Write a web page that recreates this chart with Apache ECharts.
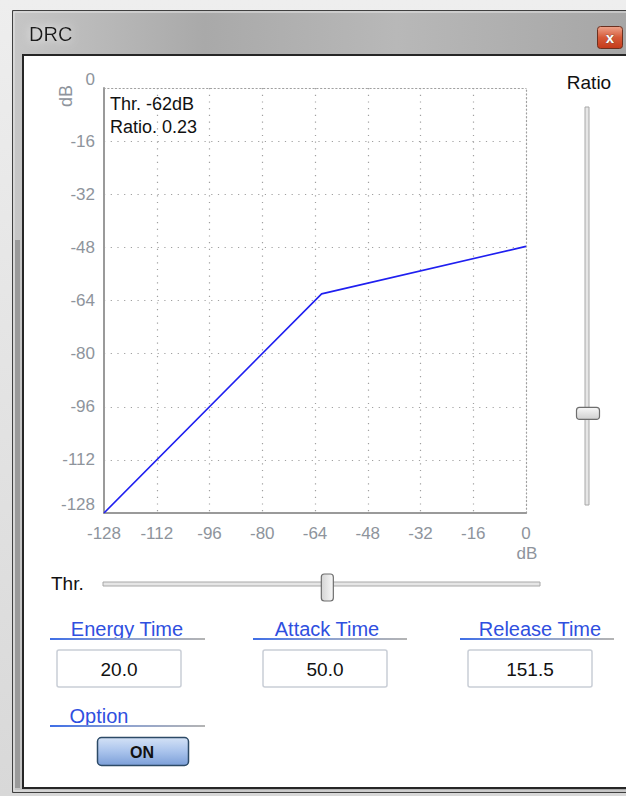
<!DOCTYPE html>
<html>
<head>
<meta charset="utf-8">
<script src="https://cdn.jsdelivr.net/npm/echarts@6/dist/echarts.min.js"></script>
<style>
html,body{margin:0;padding:0;background:#d8d8d8;}
#c{width:626px;height:796px;}
</style>
</head>
<body>
<div id="c"></div>
<script>
// ---- data ----
var curveInput  = [-128, -62, 0];
var curveOutput = [-128, -62, -47.7];
var axisTicks   = [-128, -112, -96, -80, -64, -48, -32, -16, 0];
var thresholdDb = -62;
var ratioValue  = 0.23;
var energyTime  = '20.0';
var attackTime  = '50.0';
var releaseTime = '151.5';
var optionState = 'ON';

var FONT = '"Liberation Sans",Arial,sans-serif';
var GRID = {left:104, top:88, width:422, height:425};

var chart = echarts.init(document.getElementById('c'), null, {renderer:'svg'});

var curve = curveInput.map(function(x, i){ return [x, curveOutput[i]]; });

// slider geometry
var ratioTrack = {x:585, y0:107, y1:505};
var thrTrack = {y:584, x0:103, x1:540};
var ratioThumbY = ratioTrack.y0 + (1 - ratioValue) * (ratioTrack.y1 - ratioTrack.y0);
var thrThumbX = thrTrack.x0 + (thresholdDb - axisTicks[0]) / (axisTicks[axisTicks.length-1] - axisTicks[0]) * (thrTrack.x1 - thrTrack.x0);

function blueLabel(text, cx, x0, x1, ty, ly){
  return [
    {type:'text', z:10, style:{text:text, x:cx, y:ty, align:'center', verticalAlign:'middle',
      font:'20px '+FONT, fill:'#2f4fe0'}},
    {type:'rect', z:10, shape:{x:x0, y:ly, width:x1-x0, height:2},
      style:{fill:new echarts.graphic.LinearGradient(0,0,1,0,[{offset:0,color:'#3f6ee6'},{offset:0.5,color:'#8fa3d0'},{offset:1,color:'#b4b4b4'}])}}
  ];
}
function textBox(text, x, y){
  return [
    {type:'rect', z:10, shape:{x:x, y:y, width:124, height:37, r:2},
      style:{fill:'#ffffff', stroke:'#c9ced6', lineWidth:1.5}},
    {type:'text', z:11, style:{text:text, x:x+62, y:y+19, align:'center', verticalAlign:'middle',
      font:'19px '+FONT, fill:'#111'}}
  ];
}

var graphics = [
  {type:'rect', z:0, silent:true, shape:{x:0,y:0,width:626,height:796},
    style:{fill:new echarts.graphic.LinearGradient(0,0,0,1,[{offset:0,color:'#eeeeee'},{offset:1,color:'#d8d8d8'}])}},
  {type:'rect', z:1, shape:{x:12.5,y:10.5,width:640,height:782},
    style:{fill:new echarts.graphic.LinearGradient(0,0,1,0,[{offset:0,color:'#c6c6c6'},{offset:0.3,color:'#a9a9a9'},{offset:0.6,color:'#b8b8b8'},{offset:1,color:'#a4a4a4'}]),
      stroke:'#404040', lineWidth:1}},
  {type:'rect', z:1, shape:{x:14,y:12,width:640,height:779},
    style:{fill:'none', stroke:'#e6e6e6', lineWidth:1}},
  {type:'rect', z:2, shape:{x:15,y:240,width:5,height:548},
    style:{fill:'#9a9a9a'}},
  {type:'text', z:3, style:{text:'DRC', x:29, y:34, verticalAlign:'middle', font:'20px '+FONT, fill:'#1a1a1a',
    textShadowColor:'rgba(255,255,255,0.9)', textShadowBlur:8}},
  {type:'rect', z:3, shape:{x:597.5,y:26.5,width:25,height:22,r:3},
    style:{fill:new echarts.graphic.LinearGradient(0,0,0,1,[{offset:0,color:'#eea48c'},{offset:0.5,color:'#d65a38'},{offset:1,color:'#c43a1a'}]),
      stroke:'#6a3020', lineWidth:1}},
  {type:'text', z:4, style:{text:'x', x:610, y:37, align:'center', verticalAlign:'middle', font:'bold 15px '+FONT, fill:'#ffffff', stroke:'#6a4a40', lineWidth:0.6}},
  {type:'rect', z:4, shape:{x:23,y:55,width:620,height:733},
    style:{fill:'#ffffff', stroke:'#262626', lineWidth:2}},

  {type:'text', z:20, style:{text:'Thr. ' + thresholdDb + 'dB', x:110, y:104, verticalAlign:'middle', font:'18px '+FONT, fill:'#111'}},
  {type:'text', z:20, style:{text:'Ratio. ' + ratioValue.toFixed(2), x:110, y:127, verticalAlign:'middle', font:'18px '+FONT, fill:'#111'}},
  {type:'text', z:20, rotation:Math.PI/2, x:66, y:96, style:{text:'dB', x:0, y:0, align:'center', verticalAlign:'middle', font:'18px '+FONT, fill:'#8e949c'}},
  {type:'text', z:20, style:{text:'dB', x:527, y:553, align:'center', verticalAlign:'middle', font:'17px '+FONT, fill:'#8e949c'}},

  {type:'text', z:10, style:{text:'Ratio', x:589, y:82, align:'center', verticalAlign:'middle', font:'19px '+FONT, fill:'#111'}},
  {type:'rect', z:10, shape:{x:ratioTrack.x, y:ratioTrack.y0, width:4, height:ratioTrack.y1-ratioTrack.y0},
    style:{fill:'#e6e6e6', stroke:'#a8a8a8', lineWidth:1}},
  {type:'rect', z:11, shape:{x:576.5, y:ratioThumbY-6, width:23, height:12, r:3},
    style:{fill:new echarts.graphic.LinearGradient(0,0,0,1,[{offset:0,color:'#f8f8f8'},{offset:1,color:'#cfcfcf'}]), stroke:'#6e6e6e', lineWidth:1.2}},

  {type:'text', z:10, style:{text:'Thr.', x:51, y:583, verticalAlign:'middle', font:'19px '+FONT, fill:'#111'}},
  {type:'rect', z:10, shape:{x:thrTrack.x0, y:thrTrack.y-2, width:thrTrack.x1-thrTrack.x0, height:4},
    style:{fill:'#e6e6e6', stroke:'#a8a8a8', lineWidth:1}},
  {type:'rect', z:11, shape:{x:thrThumbX-7, y:574, width:12, height:27, r:3},
    style:{fill:new echarts.graphic.LinearGradient(1,0,0,0,[{offset:0,color:'#f8f8f8'},{offset:1,color:'#d4d4d4'}]), stroke:'#6e6e6e', lineWidth:1.2}}
];

graphics = graphics
  .concat(blueLabel('Energy Time', 127, 50, 205, 629, 638))
  .concat(blueLabel('Attack Time', 327, 253, 407, 629, 638))
  .concat(blueLabel('Release Time', 540, 460, 614, 629, 638))
  .concat(textBox(energyTime, 57, 650))
  .concat(textBox(attackTime, 263, 650))
  .concat(textBox(releaseTime, 468, 650))
  .concat(blueLabel('Option', 99, 50, 205, 716, 725))
  .concat([
    {type:'rect', z:10, shape:{x:97.5, y:737.5, width:91, height:28, r:4},
      style:{fill:new echarts.graphic.LinearGradient(0,0,0,1,[{offset:0,color:'#d4e2f6'},{offset:0.5,color:'#a9c3ec'},{offset:1,color:'#7c9fd8'}]), stroke:'#2c4a66', lineWidth:1.5}},
    {type:'text', z:11, style:{text:optionState, x:142, y:752, align:'center', verticalAlign:'middle', font:'bold 16px '+FONT, fill:'#111'}}
  ]);

var labelStyle = {color:'#8e949c', fontFamily:FONT, fontSize:17};

chart.setOption({
  animation:false,
  graphic:graphics,
  grid:GRID,
  xAxis:[{
    type:'value', z:8, min:axisTicks[0], max:axisTicks[axisTicks.length-1], interval:16,
    axisLine:{show:true, onZero:false, lineStyle:{color:'#9a9a9a', width:2}},
    axisTick:{show:false},
    axisLabel:Object.assign({margin:12}, labelStyle),
    splitLine:{show:true, showMinLine:false, showMaxLine:false, lineStyle:{color:'#a0a0a0', width:1.2, type:[1.2,5.5]}}
  },{
    type:'value', z:8, position:'top', min:axisTicks[0], max:axisTicks[axisTicks.length-1], interval:16,
    axisLine:{show:true, onZero:false, lineStyle:{color:'#a0a0a0', width:1.2, type:[1.2,2.6]}},
    axisTick:{show:false}, axisLabel:{show:false}, splitLine:{show:false}
  }],
  yAxis:[{
    type:'value', z:8, min:axisTicks[0], max:axisTicks[axisTicks.length-1], interval:16,
    axisLine:{show:true, onZero:false, lineStyle:{color:'#9a9a9a', width:2}},
    axisTick:{show:false},
    axisLabel:Object.assign({margin:9, verticalAlignMinLabel:'bottom', verticalAlignMaxLabel:'bottom'}, labelStyle),
    splitLine:{show:true, showMinLine:false, showMaxLine:false, lineStyle:{color:'#a0a0a0', width:1.2, type:[1.2,5.5]}}
  },{
    type:'value', z:8, position:'right', min:axisTicks[0], max:axisTicks[axisTicks.length-1], interval:16,
    axisLine:{show:true, onZero:false, lineStyle:{color:'#a0a0a0', width:1.2, type:[1.2,2.6]}},
    axisTick:{show:false}, axisLabel:{show:false}, splitLine:{show:false}
  }],
  series:[{
    type:'line', z:9, xAxisIndex:0, yAxisIndex:0, data:curve, showSymbol:false, symbol:'none',
    lineStyle:{color:'#1f1ff0', width:1.6}
  }]
});
</script>
</body>
</html>
